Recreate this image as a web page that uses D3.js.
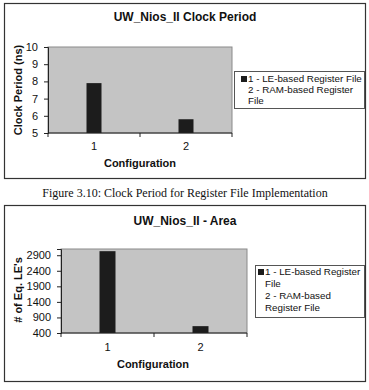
<!DOCTYPE html>
<html>
<head>
<meta charset="utf-8">
<script src="https://cdn.jsdelivr.net/npm/d3@7"></script>
<style>
  body { margin: 0; background: #fff; }
  text { font-family: "Liberation Sans", Arial, sans-serif; fill: #111; }
  .caption { font-family: "Liberation Serif", "Times New Roman", serif; }
</style>
</head>
<body>
<div id="container"></div>
<script>
// categories and values
var categories = ["1", "2"];
var clockPeriod = [7.9, 5.8];
var areaLE = [3030, 620];
var clockTicks = [5, 6, 7, 8, 9, 10];
var areaTicks = [400, 900, 1400, 1900, 2400, 2900];
var legendClock = [["1 - LE-based Register File"], ["2 - RAM-based Register", "File"]];
var legendArea = [["1 - LE-based Register", "File"], ["2 - RAM-based", "Register File"]];

var svg = d3.select("#container").append("svg")
    .attr("width", 369)
    .attr("height", 390);

//draws one excel-style chart panel
function drawChart(cfg) {
  var g = svg.append("g");

  // outer frame
  g.append("rect")
      .attr("x", cfg.box[0] + 0.5).attr("y", cfg.box[1] + 0.5)
      .attr("width", cfg.box[2] - cfg.box[0]).attr("height", cfg.box[3] - cfg.box[1])
      .attr("fill", "#fff").attr("stroke", "#333").attr("stroke-width", 1.2);

  g.append("text")
      .attr("x", 185).attr("y", cfg.titleY)
      .attr("text-anchor", "middle")
      .style("font-size", "12px").style("font-weight", "bold")
      .text(cfg.title);

  var x = d3.scaleBand().domain(cfg.cats).range([cfg.plot[0], cfg.plot[2]]);
  var y = d3.scaleLinear().domain(cfg.domain).range([cfg.plot[3], cfg.plot[1]]);

  // plot area
  g.append("rect")
      .attr("x", cfg.plot[0]).attr("y", cfg.plot[1])
      .attr("width", cfg.plot[2] - cfg.plot[0]).attr("height", cfg.plot[3] - cfg.plot[1])
      .attr("fill", "#c4c4c4").attr("stroke", "#8a8a8a").attr("stroke-width", 1);

  // bars
  g.selectAll("rect.bar")
      .data(cfg.values)
      .enter().append("rect")
      .attr("class", "bar")
      .attr("x", function(d, i) { return x(cfg.cats[i]) + x.bandwidth() / 2 - cfg.barW / 2; })
      .attr("width", cfg.barW)
      .attr("y", function(d) { return y(d); })
      .attr("height", function(d) { return y(cfg.domain[0]) - y(d); })
      .attr("fill", "#1c1c1c");

  // y axis
  var yAxis = g.append("g")
      .attr("transform", "translate(" + cfg.plot[0] + ",0)")
      .call(d3.axisLeft(y).tickValues(cfg.ticks).tickSize(4).tickPadding(6).tickFormat(d3.format("d")));
  yAxis.select(".domain").attr("stroke", "#222");
  yAxis.selectAll(".tick line").attr("stroke", "#222");
  yAxis.selectAll("text").style("font-size", "11px").attr("fill", "#111");

  // x axis, ticks between categories like excel
  var xa = g.append("g").attr("transform", "translate(0," + cfg.plot[3] + ")");
  xa.append("line")
      .attr("x1", cfg.plot[0]).attr("x2", cfg.plot[2])
      .attr("stroke", "#222");
  xa.selectAll("line.tk")
      .data([cfg.plot[0]].concat(cfg.cats.map(function(c) { return x(c) + x.bandwidth(); })))
      .enter().append("line")
      .attr("class", "tk")
      .attr("x1", function(d) { return d; }).attr("x2", function(d) { return d; })
      .attr("y1", 0).attr("y2", 4)
      .attr("stroke", "#222");
  xa.selectAll("text")
      .data(cfg.cats)
      .enter().append("text")
      .attr("x", function(d) { return x(d) + x.bandwidth() / 2; })
      .attr("y", cfg.catY - cfg.plot[3])
      .attr("text-anchor", "middle")
      .style("font-size", "11px")
      .text(function(d) { return d; });

  g.append("text")
      .attr("x", cfg.xTitle[0]).attr("y", cfg.xTitle[1])
      .attr("text-anchor", "middle")
      .style("font-size", "11px").style("font-weight", "bold")
      .text("Configuration");

  g.append("text")
      .attr("transform", "translate(" + cfg.yTitle[0] + "," + cfg.yTitle[1] + ") rotate(-90)")
      .attr("text-anchor", "middle")
      .style("font-size", "11px").style("font-weight", "bold")
      .text(cfg.yLabel);

  // legend
  var lg = cfg.legend;
  g.append("rect")
      .attr("x", lg.box[0] + 0.5).attr("y", lg.box[1] + 0.5)
      .attr("width", lg.box[2] - lg.box[0]).attr("height", lg.box[3] - lg.box[1])
      .attr("fill", "#fff").attr("stroke", "#555").attr("stroke-width", 1);
  g.append("rect")
      .attr("x", lg.marker[0]).attr("y", lg.marker[1])
      .attr("width", 6).attr("height", 6)
      .attr("fill", "#1c1c1c");
  var lines = [];
  cfg.legendLines.forEach(function(entry) { entry.forEach(function(l) { lines.push(l); }); });
  g.selectAll("text.leg")
      .data(lines)
      .enter().append("text")
      .attr("class", "leg")
      .attr("x", lg.textX)
      .attr("y", function(d, i) { return lg.firstY + i * lg.lineH; })
      .style("font-size", "9.8px")
      .text(function(d) { return d; });
}

drawChart({
  box: [4, 3, 365, 178],
  title: "UW_Nios_II Clock Period",
  titleY: 21,
  cats: categories,
  values: clockPeriod,
  domain: [5, 10],
  ticks: clockTicks,
  plot: [48, 47, 232, 133],
  barW: 15,
  catY: 150,
  xTitle: [140, 167],
  yTitle: [22, 90],
  yLabel: "Clock Period (ns)",
  legendLines: legendClock,
  legend: { box: [234, 71, 364, 108], marker: [241, 76], textX: 248, firstY: 82, lineH: 11.2 }
});

svg.append("text")
    .attr("class", "caption")
    .attr("x", 185).attr("y", 197)
    .attr("text-anchor", "middle")
    .style("font-size", "12px")
    .text("Figure 3.10: Clock Period for Register File Implementation");

drawChart({
  box: [4, 205, 365, 381],
  title: "UW_Nios_II - Area",
  titleY: 225,
  cats: categories,
  values: areaLE,
  domain: [400, 3100],
  ticks: areaTicks,
  plot: [61, 249, 247, 333],
  barW: 16,
  catY: 351,
  xTitle: [153, 368],
  yTitle: [22, 290],
  yLabel: "# of Eq. LE's",
  legendLines: legendArea,
  legend: { box: [255, 265, 364, 317], marker: [258, 269], textX: 265, firstY: 275, lineH: 12 }
});
</script>
</body>
</html>
